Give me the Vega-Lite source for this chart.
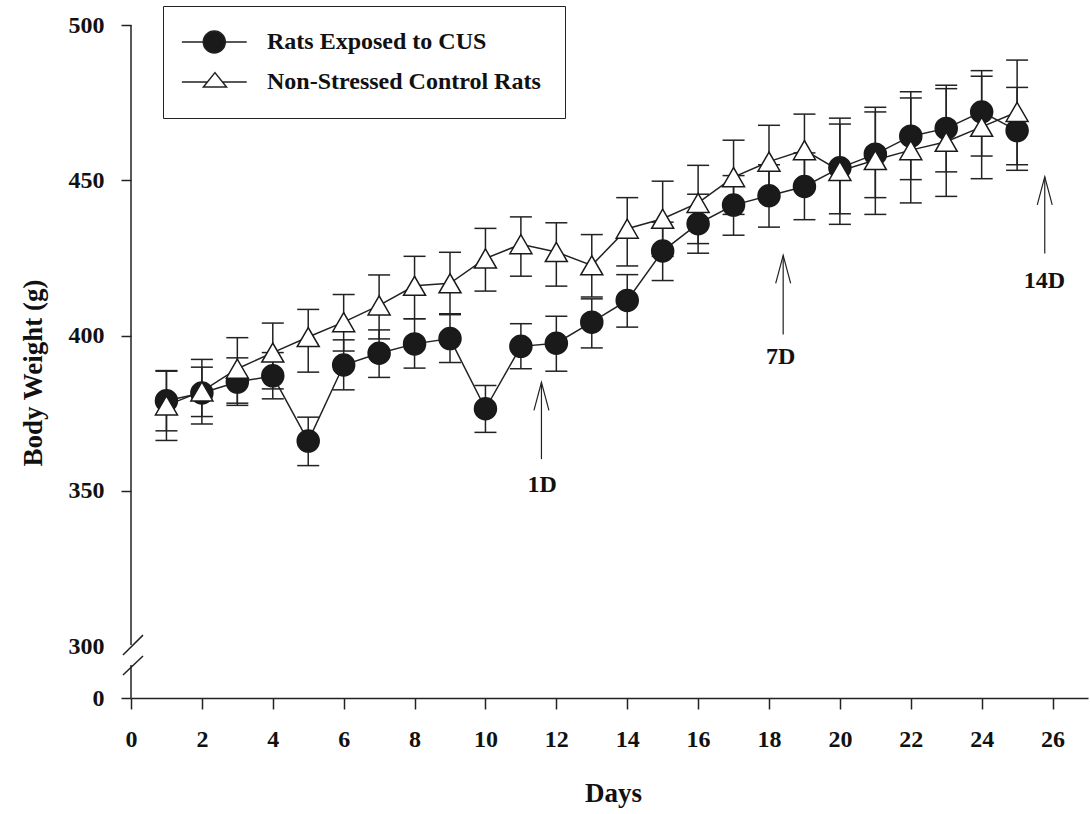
{
  "$schema": "https://vega.github.io/schema/vega-lite/v6.json",
  "width": 957,
  "height": 673,
  "autosize": {"type": "none"},
  "padding": {"left": 131, "top": 25, "right": 2, "bottom": 116},
  "background": "white",
  "config": {"font": "Liberation Serif", "view": {"stroke": null}, "axis": {"grid": false}},
  "datasets": {
    "weights": [
      {"day": 1, "group": "Rats Exposed to CUS", "mean": 379, "lower": 369.3, "upper": 388.5},
      {"day": 2, "group": "Rats Exposed to CUS", "mean": 381.5, "lower": 373.9, "upper": 389.8},
      {"day": 3, "group": "Rats Exposed to CUS", "mean": 385, "lower": 377.5, "upper": 392.8},
      {"day": 4, "group": "Rats Exposed to CUS", "mean": 387, "lower": 379.6, "upper": 394.5},
      {"day": 5, "group": "Rats Exposed to CUS", "mean": 366, "lower": 358.1, "upper": 373.7},
      {"day": 6, "group": "Rats Exposed to CUS", "mean": 390.5, "lower": 382.5, "upper": 398.6},
      {"day": 7, "group": "Rats Exposed to CUS", "mean": 394.3, "lower": 386.5, "upper": 401.8},
      {"day": 8, "group": "Rats Exposed to CUS", "mean": 397.3, "lower": 389.5, "upper": 405.4},
      {"day": 9, "group": "Rats Exposed to CUS", "mean": 399, "lower": 391.3, "upper": 406.7},
      {"day": 10, "group": "Rats Exposed to CUS", "mean": 376.4, "lower": 368.8, "upper": 383.9},
      {"day": 11, "group": "Rats Exposed to CUS", "mean": 396.5, "lower": 389.3, "upper": 403.8},
      {"day": 12, "group": "Rats Exposed to CUS", "mean": 397.5, "lower": 388.5, "upper": 406.2},
      {"day": 13, "group": "Rats Exposed to CUS", "mean": 404.3, "lower": 396, "upper": 411.8},
      {"day": 14, "group": "Rats Exposed to CUS", "mean": 411.3, "lower": 402.7, "upper": 419.6},
      {"day": 15, "group": "Rats Exposed to CUS", "mean": 427.2, "lower": 417.7, "upper": 436.5},
      {"day": 16, "group": "Rats Exposed to CUS", "mean": 436, "lower": 426.5, "upper": 445.5},
      {"day": 17, "group": "Rats Exposed to CUS", "mean": 442, "lower": 432.3, "upper": 451.5},
      {"day": 18, "group": "Rats Exposed to CUS", "mean": 445, "lower": 434.9, "upper": 455},
      {"day": 19, "group": "Rats Exposed to CUS", "mean": 448, "lower": 437.3, "upper": 458.8},
      {"day": 20, "group": "Rats Exposed to CUS", "mean": 454, "lower": 439.2, "upper": 468.1},
      {"day": 21, "group": "Rats Exposed to CUS", "mean": 458.4, "lower": 444.4, "upper": 472},
      {"day": 22, "group": "Rats Exposed to CUS", "mean": 464.2, "lower": 450.2, "upper": 478.5},
      {"day": 23, "group": "Rats Exposed to CUS", "mean": 466.7, "lower": 452.7, "upper": 480.6},
      {"day": 24, "group": "Rats Exposed to CUS", "mean": 472, "lower": 457.8, "upper": 485.3},
      {"day": 25, "group": "Rats Exposed to CUS", "mean": 466, "lower": 453.2, "upper": 479.9},
      {"day": 1, "group": "Non-Stressed Control Rats", "mean": 377.5, "lower": 366.2, "upper": 388.7},
      {"day": 2, "group": "Non-Stressed Control Rats", "mean": 382, "lower": 371.5, "upper": 392.3},
      {"day": 3, "group": "Non-Stressed Control Rats", "mean": 389.3, "lower": 378.2, "upper": 399.3},
      {"day": 4, "group": "Non-Stressed Control Rats", "mean": 394.5, "lower": 382.8, "upper": 404},
      {"day": 5, "group": "Non-Stressed Control Rats", "mean": 399.5, "lower": 388.2, "upper": 408.4},
      {"day": 6, "group": "Non-Stressed Control Rats", "mean": 404.3, "lower": 395, "upper": 413.2},
      {"day": 7, "group": "Non-Stressed Control Rats", "mean": 409.7, "lower": 398.9, "upper": 419.5},
      {"day": 8, "group": "Non-Stressed Control Rats", "mean": 416, "lower": 405.4, "upper": 425.5},
      {"day": 9, "group": "Non-Stressed Control Rats", "mean": 416.8, "lower": 407, "upper": 426.8},
      {"day": 10, "group": "Non-Stressed Control Rats", "mean": 424.8, "lower": 414.3, "upper": 434.5},
      {"day": 11, "group": "Non-Stressed Control Rats", "mean": 429.4, "lower": 419.1, "upper": 438.2},
      {"day": 12, "group": "Non-Stressed Control Rats", "mean": 426.9, "lower": 415.9, "upper": 436.3},
      {"day": 13, "group": "Non-Stressed Control Rats", "mean": 422.6, "lower": 412.4, "upper": 432.5},
      {"day": 14, "group": "Non-Stressed Control Rats", "mean": 434.4, "lower": 422.4, "upper": 444.4},
      {"day": 15, "group": "Non-Stressed Control Rats", "mean": 437.6, "lower": 425.5, "upper": 449.7},
      {"day": 16, "group": "Non-Stressed Control Rats", "mean": 442.7, "lower": 429.6, "upper": 454.8},
      {"day": 17, "group": "Non-Stressed Control Rats", "mean": 451, "lower": 439, "upper": 462.9},
      {"day": 18, "group": "Non-Stressed Control Rats", "mean": 456, "lower": 444.5, "upper": 467.7},
      {"day": 19, "group": "Non-Stressed Control Rats", "mean": 459.7, "lower": 448, "upper": 471.3},
      {"day": 20, "group": "Non-Stressed Control Rats", "mean": 453, "lower": 435.8, "upper": 470},
      {"day": 21, "group": "Non-Stressed Control Rats", "mean": 456.5, "lower": 439, "upper": 473.5},
      {"day": 22, "group": "Non-Stressed Control Rats", "mean": 459.7, "lower": 442.7, "upper": 476.5},
      {"day": 23, "group": "Non-Stressed Control Rats", "mean": 462.4, "lower": 444.8, "upper": 479.5},
      {"day": 24, "group": "Non-Stressed Control Rats", "mean": 467.2, "lower": 450.5, "upper": 483.5},
      {"day": 25, "group": "Non-Stressed Control Rats", "mean": 472, "lower": 455, "upper": 488.7}
    ],
    "arrows": [
      {"label": "1D", "day": 11.58, "tip": 384.9, "tail": 360.2, "labelDay": 11.6, "labelWeight": 352},
      {"label": "7D", "day": 18.4, "tip": 425.8, "tail": 400.3, "labelDay": 18.33, "labelWeight": 393},
      {"label": "14D", "day": 25.78, "tip": 451.1, "tail": 426.4, "labelDay": 25.77, "labelWeight": 417.5}
    ],
    "axisbreak": [
      {"xa": 0, "xb": 0, "ya": 300.3, "yb": 500},
      {"xa": 0, "xb": 0, "ya": 0, "yb": 190.4},
      {"xa": -0.226, "xb": 0.338, "ya": 248.1, "yb": 303.5},
      {"xa": -0.226, "xb": 0.338, "ya": 132.7, "yb": 242.3}
    ]
  },
  "layer": [
    {
      "data": {"name": "weights"},
      "mark": {"type": "rule", "color": "#222", "strokeWidth": 1.5},
      "encoding": {
        "x": {
          "field": "day", "type": "quantitative",
          "scale": {"domain": [0, 27], "nice": false, "zero": false},
          "axis": {
            "title": "Days", "values": [0, 2, 4, 6, 8, 10, 12, 14, 16, 18, 20, 22, 24, 26],
            "tickSize": 11, "tickWidth": 1.5, "tickColor": "#222", "domainColor": "#222", "domainWidth": 1.5,
            "labelFontSize": 24, "labelFontWeight": "bold", "labelColor": "#111", "labelPadding": 18,
            "labelFlush": false, "labelOverlap": false,
            "titleFontSize": 27, "titleFontWeight": "bold", "titleColor": "#111",
            "titleBaseline": "alphabetic", "titleAlign": "center", "titleX": 482, "titleY": 103
          }
        },
        "y": {
          "field": "lower", "type": "quantitative",
          "scale": {"domain": [0, 300, 500], "range": [673, 621, 0], "nice": false, "zero": false},
          "axis": {
            "title": "Body Weight (g)", "values": [0, 300, 350, 400, 450, 500], "domain": false,
            "tickSize": 10, "tickWidth": 1.5, "tickColor": "#222",
            "tickOpacity": {"condition": {"test": "datum.value === 300", "value": 0}, "value": 1},
            "labelFontSize": 24, "labelFontWeight": "bold", "labelColor": "#111", "labelPadding": 17,
            "labelOverlap": false, "labelFlush": false,
            "titleFontSize": 27, "titleFontWeight": "bold", "titleColor": "#111",
            "titleAngle": -90, "titleX": -90, "titleY": 347.5, "titleAlign": "center", "titleBaseline": "alphabetic"
          }
        },
        "y2": {"field": "upper"}
      }
    },
    {
      "data": {"name": "weights"},
      "mark": {"type": "tick", "orient": "horizontal", "size": 22, "thickness": 1.5, "color": "#222", "opacity": 1},
      "encoding": {
        "x": {"field": "day", "type": "quantitative"},
        "y": {"field": "lower", "type": "quantitative"}
      }
    },
    {
      "data": {"name": "weights"},
      "mark": {"type": "tick", "orient": "horizontal", "size": 22, "thickness": 1.5, "color": "#222", "opacity": 1},
      "encoding": {
        "x": {"field": "day", "type": "quantitative"},
        "y": {"field": "upper", "type": "quantitative"}
      }
    },
    {
      "data": {"name": "weights"},
      "mark": {"type": "line", "strokeWidth": 1.5},
      "encoding": {
        "x": {"field": "day", "type": "quantitative"},
        "y": {"field": "mean", "type": "quantitative"},
        "stroke": {
          "field": "group", "type": "nominal",
          "scale": {"domain": ["Rats Exposed to CUS", "Non-Stressed Control Rats"], "range": ["#222222", "#222222"]},
          "legend": {
            "title": null, "orient": "none", "legendX": 32, "legendY": -19, "padding": 24, "rowPadding": 13,
            "labelOffset": 56, "symbolSize": 484,
            "symbolType": {"expr": "datum.value === 'Rats Exposed to CUS' ? 'M-1.56,0H0.39M2.39,0H4.34M0.39,0A1,1,0,1,1,2.39,0A1,1,0,1,1,0.39,0Z' : 'M-1.56,0H0.76M2.14,0H4.34M1.45,-0.85L0.4,0.45L2.5,0.45Z'"},
            "symbolFillColor": {"expr": "datum.value === 'Rats Exposed to CUS' ? '#1a1a1a' : '#ffffff'"},
            "symbolStrokeColor": "#1a1a1a", "symbolStrokeWidth": 1.5, "symbolOpacity": 1,
            "labelFont": "Liberation Serif", "labelFontSize": 24, "labelFontWeight": "bold", "labelColor": "#111",
            "labelLimit": 0, "strokeColor": "#222", "fillColor": "white"
          }
        }
      }
    },
    {
      "data": {"name": "weights"},
      "transform": [{"filter": "datum.group === 'Rats Exposed to CUS'"}],
      "mark": {"type": "point", "shape": "circle", "filled": true, "fill": "#1a1a1a", "size": 484, "stroke": "#1a1a1a", "strokeWidth": 1.5, "opacity": 1},
      "encoding": {
        "x": {"field": "day", "type": "quantitative"},
        "y": {"field": "mean", "type": "quantitative"}
      }
    },
    {
      "data": {"name": "weights"},
      "transform": [{"filter": "datum.group === 'Non-Stressed Control Rats'"}],
      "mark": {"type": "point", "shape": "triangle-up", "filled": true, "fill": "#ffffff", "size": 484, "stroke": "#1a1a1a", "strokeWidth": 1.5, "opacity": 1},
      "encoding": {
        "x": {"field": "day", "type": "quantitative"},
        "y": {"field": "mean", "type": "quantitative"}
      }
    },
    {
      "data": {"name": "arrows"},
      "mark": {"type": "rule", "color": "#222", "strokeWidth": 1.2},
      "encoding": {
        "x": {"field": "day", "type": "quantitative"},
        "y": {"field": "tail", "type": "quantitative"},
        "y2": {"field": "tip"}
      }
    },
    {
      "data": {"name": "arrows"},
      "mark": {"type": "point", "shape": "M-1.07,4L0,0L1.07,4", "filled": false, "size": 196, "stroke": "#222", "strokeWidth": 1.2, "opacity": 1},
      "encoding": {
        "x": {"field": "day", "type": "quantitative"},
        "y": {"field": "tip", "type": "quantitative"}
      }
    },
    {
      "data": {"name": "arrows"},
      "mark": {"type": "text", "font": "Liberation Serif", "fontSize": 24, "fontWeight": "bold", "color": "#111", "align": "center", "baseline": "middle"},
      "encoding": {
        "x": {"field": "labelDay", "type": "quantitative"},
        "y": {"field": "labelWeight", "type": "quantitative"},
        "text": {"field": "label", "type": "nominal"}
      }
    },
    {
      "data": {"name": "axisbreak"},
      "mark": {"type": "rule", "color": "#222", "strokeWidth": 1.5},
      "encoding": {
        "x": {"field": "xa", "type": "quantitative"},
        "x2": {"field": "xb"},
        "y": {"field": "ya", "type": "quantitative"},
        "y2": {"field": "yb"}
      }
    }
  ]
}
